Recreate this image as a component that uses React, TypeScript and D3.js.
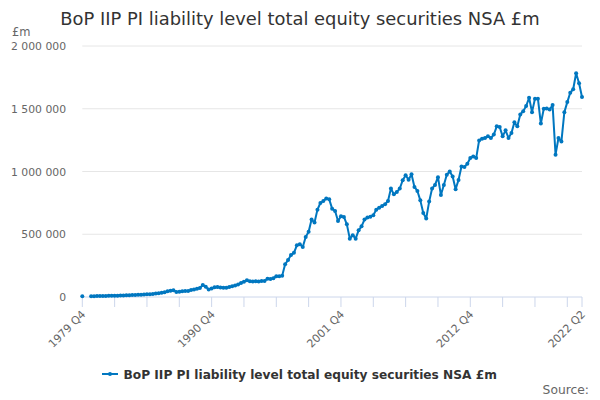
import React from "react";
import * as d3 from "d3";

const TITLE = "BoP IIP PI liability level total equity securities NSA £m";
const SERIES_NAME = "BoP IIP PI liability level total equity securities NSA £m";
const UNIT_LABEL = "£m";
const SOURCE_LABEL = "Source:";

// Quarterly from 1979 Q4 to 2022 Q2 (values in thousands of £m)
const START_YEAR = 1979;
const START_Q = 4;
const valuesK: (number | null)[] = [
  5, null, null, 6, 6, 7, 7, 8, 8, 9,
  9, 10, 10, 11, 12, 13, 14, 15, 16, 17,
  18, 20, 21, 22, 24, 27, 30, 33, 38, 45,
  50, 54, 40, 42, 45, 47, 48, 55, 60, 65,
  72, 95, 82, 60, 68, 78, 80, 76, 74, 73,
  80, 85, 92, 100, 112, 122, 133, 125, 124, 126,
  124, 128, 127, 145, 143, 150, 165, 166, 170, 260,
  295, 335, 352, 412, 420, 398, 478, 520, 617, 593,
  696, 749, 765, 784, 778, 704, 685, 606, 643, 638,
  579, 465, 492, 465, 531, 563, 617, 633, 640, 651,
  696, 712, 725, 739, 765, 864, 818, 837, 864, 930,
  970, 935, 978, 877, 845, 770, 669, 625, 760, 864,
  893, 955, 813, 893, 974, 1000, 960, 859, 933, 1040,
  1035, 1062, 1107, 1120, 1107, 1248, 1261, 1267, 1280, 1267,
  1294, 1360, 1355, 1280, 1328, 1267, 1307, 1392, 1360, 1454,
  1481, 1521, 1588, 1473, 1580, 1580, 1382, 1500, 1502, 1494,
  1529, 1134, 1267, 1240, 1473, 1553, 1628, 1655, 1783, 1703,
  1593,
];
const values: (number | null)[] = valuesK.map((v) => (v == null ? null : v * 1000));
const categories: string[] = values.map((_, i) => {
  const q0 = START_Q - 1 + i;
  const y = START_YEAR + Math.floor(q0 / 4);
  const q = (q0 % 4) + 1;
  return `${y} Q${q}`;
});
const yTicks = [0, 500000, 1000000, 1500000, 2000000];
const xLabelCats = ["1979 Q4", "1990 Q4", "2001 Q4", "2012 Q4", "2022 Q2"];
const TICK_EVERY = 11;

const W = 600;
const H = 400;
const FONT = "'DejaVu Sans', sans-serif";
const BLUE = "#0077c0";

export default function App() {
  const left = 82.3;
  const right = 582;
  const top = 46;
  const bottom = 297;

  const x = d3
    .scalePoint<string>()
    .domain(categories)
    .range([left, right]);
  const y = d3.scaleLinear().domain([0, 2000000]).range([bottom, top]);

  const pts = values.map((v, i) => ({ c: categories[i], v }));
  const line = d3
    .line<{ c: string; v: number | null }>()
    .defined((d) => d.v != null)
    .x((d) => x(d.c) as number)
    .y((d) => y(d.v as number));

  const tickCats = categories.filter((_, i) => i % TICK_EVERY === 0);
  tickCats.push(categories[categories.length - 1]);

  const fmt = (v: number) => d3.format(",")(v).replace(/,/g, " ");

  return (
    <svg
      width={W}
      height={H}
      style={{ position: "absolute", left: 0, top: 0, background: "#fff" }}
      fontFamily={FONT}
    >
      <rect x={0} y={0} width={W} height={H} fill="#fff" />
      <text x={300} y={24.5} textAnchor="middle" fontSize={17.9} fill="#333">
        {TITLE}
      </text>
      <text x={12} y={36} fontSize={11.5} fill="#666">
        {UNIT_LABEL}
      </text>
      {yTicks.map((t) => (
        <g key={t}>
          {t !== 0 && (
            <line x1={left} x2={right} y1={y(t)} y2={y(t)} stroke="#e6e6e6" strokeWidth={1} />
          )}
          <text x={66} y={y(t) + 4} textAnchor="end" fontSize={10.8} fill="#666">
            {fmt(t)}
          </text>
        </g>
      ))}
      <line x1={left} x2={right} y1={bottom} y2={bottom} stroke="#ccd6eb" strokeWidth={1} />
      {tickCats.map((c) => (
        <line
          key={c}
          x1={x(c)}
          x2={x(c)}
          y1={bottom}
          y2={bottom + 10}
          stroke="#ccd6eb"
          strokeWidth={1}
        />
      ))}
      {xLabelCats.map((c) => (
        <text
          key={c}
          transform={`translate(${(x(c) as number) + 4},${bottom + 18}) rotate(-45)`}
          textAnchor="end"
          fontSize={11}
          fill="#666"
        >
          {c}
        </text>
      ))}
      <path d={line(pts) || ""} fill="none" stroke={BLUE} strokeWidth={2} strokeLinejoin="round" />
      {pts
        .filter((d) => d.v != null)
        .map((d) => (
          <circle key={d.c} cx={x(d.c)} cy={y(d.v as number)} r={2} fill={BLUE} />
        ))}
      <g>
        <line x1={102} x2={118} y1={374} y2={374} stroke={BLUE} strokeWidth={2} />
        <circle cx={110} cy={374} r={2} fill={BLUE} />
        <text x={123.5} y={378.5} fontSize={12.2} fontWeight="bold" fill="#333">
          {SERIES_NAME}
        </text>
      </g>
      <text x={589} y={394} textAnchor="end" fontSize={12.3} fill="#666">
        {SOURCE_LABEL}
      </text>
    </svg>
  );
}
